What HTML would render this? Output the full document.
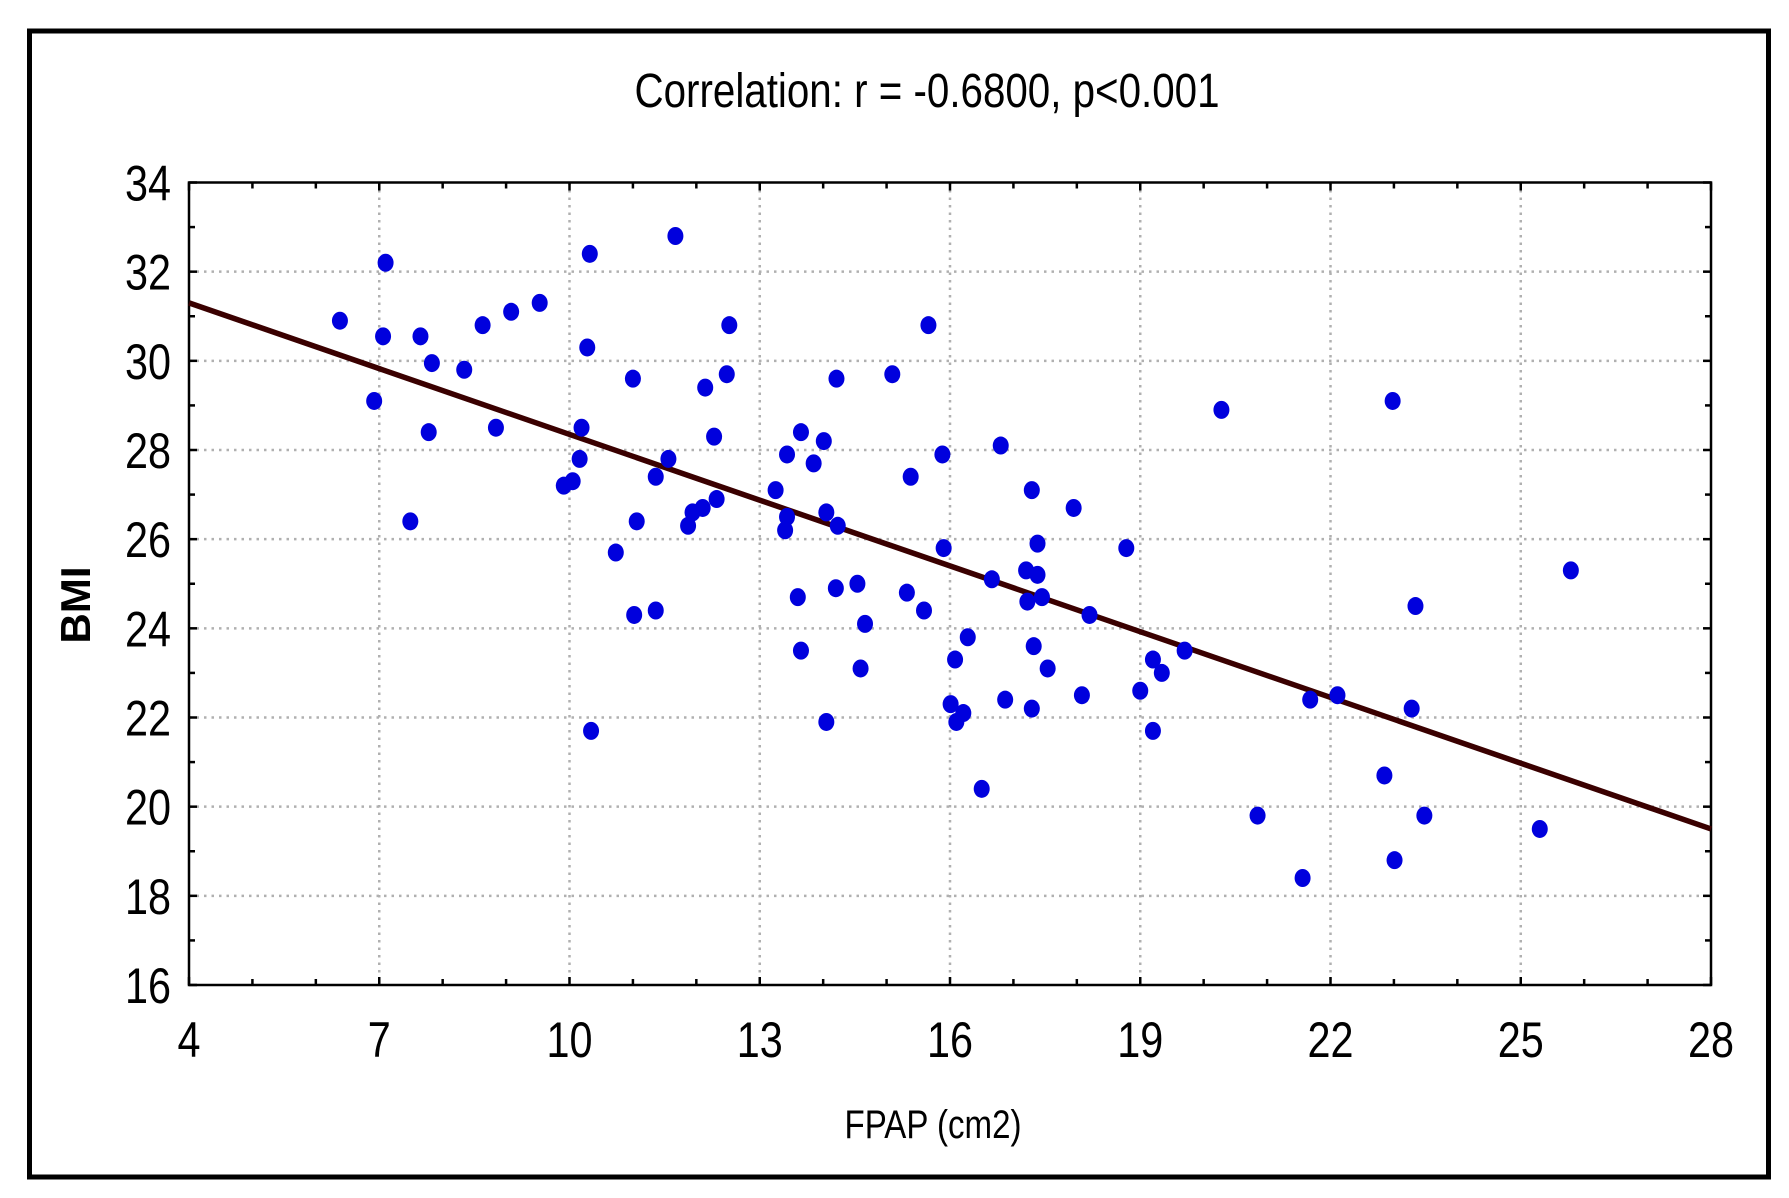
<!DOCTYPE html>
<html><head><meta charset="utf-8"><style>
html,body{margin:0;padding:0;background:#fff;}
svg{display:block;}
text{font-family:"Liberation Sans",sans-serif;}
</style></head><body>
<svg id="chart" width="1789" height="1198" viewBox="0 0 1789 1198">
<rect x="0" y="0" width="1789" height="1198" fill="#fff"/>
<rect x="29.5" y="31" width="1739" height="1146" fill="none" stroke="#000" stroke-width="5"/>
<text x="927" y="107" font-size="48" text-anchor="middle" textLength="585" lengthAdjust="spacingAndGlyphs">Correlation: r = -0.6800, p&lt;0.001</text>
<g id="grid"></g>
<g id="axes"></g>
<g id="marks"></g>
<text x="933" y="1138" font-size="40" text-anchor="middle" textLength="177" lengthAdjust="spacingAndGlyphs">FPAP (cm2)</text>
<text transform="translate(90,605) rotate(-90)" font-size="42" font-weight="bold" text-anchor="middle">BMI</text>
</svg>
<script>
const xTicks = [4,7,10,13,16,19,22,25,28];
const yTicks = [16,18,20,22,24,26,28,30,32,34];
const xs = [6.38,7.10,7.06,6.92,7.65,7.83,7.78,7.49,8.34,8.63,8.84,9.08,9.53,10.32,10.28,10.19,10.16,10.05,9.91,11.0,11.06,10.73,11.02,11.36,11.36,11.56,10.34,11.67,11.87,11.94,12.1,12.14,12.32,12.28,12.48,12.52,13.25,13.43,13.4,13.43,13.65,13.85,14.01,14.05,14.23,14.21,13.6,13.65,14.2,14.54,14.66,14.59,14.05,15.09,15.66,15.38,15.88,15.32,15.59,15.9,16.08,16.01,16.1,16.21,16.28,16.5,16.66,16.8,16.87,17.29,17.2,17.22,17.38,17.38,17.45,17.32,17.29,17.54,17.95,18.2,18.08,18.78,19.0,19.2,19.34,19.2,19.7,20.28,20.85,21.56,21.68,22.11,22.85,22.98,23.01,23.28,23.34,23.48,25.3,25.79];
const ys = [30.9,32.2,30.55,29.1,30.55,29.95,28.4,26.4,29.8,30.8,28.5,31.1,31.3,32.4,30.3,28.5,27.8,27.3,27.2,29.6,26.4,25.7,24.3,24.4,27.4,27.8,21.7,32.8,26.3,26.6,26.7,29.4,26.9,28.3,29.7,30.8,27.1,27.9,26.2,26.5,28.4,27.7,28.2,26.6,26.3,29.6,24.7,23.5,24.9,25.0,24.1,23.1,21.9,29.7,30.8,27.4,27.9,24.8,24.4,25.8,23.3,22.3,21.9,22.1,23.8,20.4,25.1,28.1,22.4,27.1,25.3,24.6,25.9,25.2,24.7,23.6,22.2,23.1,26.7,24.3,22.5,25.8,22.6,23.3,23.0,21.7,23.5,28.9,19.8,18.4,22.4,22.5,20.7,29.1,18.8,22.2,24.5,19.8,19.5,25.3];
const fitX = [4,28];
const fitY = [31.3,19.5];

const NS = 'http://www.w3.org/2000/svg';
const L=189, R=1711, T=182.5, B=985;
const xMin=4, xMax=28, yMin=16, yMax=34;
function sx(v){return L+(v-xMin)/(xMax-xMin)*(R-L);}
function sy(v){return B-(v-yMin)/(yMax-yMin)*(B-T);}
function mk(tag, attrs, parent){const e=document.createElementNS(NS,tag);for(const k in attrs)e.setAttribute(k,attrs[k]);parent.appendChild(e);return e;}
const grid=document.getElementById('grid'), axes=document.getElementById('axes'), marks=document.getElementById('marks');

xTicks.forEach(t=>{
  if(t>xMin && t<xMax){
    const g=mk('line',{x1:sx(t),x2:sx(t),y1:T,y2:B,stroke:'#b0b0b0','stroke-width':2.5,'stroke-dasharray':'2.5 5'},grid);
    
    
  }
  const s=String(t);
  const lb=mk('text',{x:sx(t),y:1057,'font-size':50,'text-anchor':'middle',textLength:23*s.length,lengthAdjust:'spacingAndGlyphs'},axes);
  lb.textContent=s;
  
  
});
yTicks.forEach(t=>{
  if(t>yMin && t<yMax){
    const g=mk('line',{x1:L,x2:R,y1:sy(t),y2:sy(t),stroke:'#b0b0b0','stroke-width':2.5,'stroke-dasharray':'2.5 5'},grid);
    
    
  }
  const s=String(t);
  const lb=mk('text',{x:171,y:sy(t)+18,'font-size':50,'text-anchor':'end',textLength:23*s.length,lengthAdjust:'spacingAndGlyphs'},axes);
  lb.textContent=s;
  
  
});
for(let v=xMin; v<=xMax; v++){
  const len=(xTicks.indexOf(v)>=0)?8:6;
  mk('line',{x1:sx(v),x2:sx(v),y1:B,y2:B-len,stroke:'#000','stroke-width':2.5},axes);
  mk('line',{x1:sx(v),x2:sx(v),y1:T,y2:T+len,stroke:'#000','stroke-width':2.5},axes);
}
for(let v=yMin; v<=yMax; v++){
  const len=(yTicks.indexOf(v)>=0)?8:6;
  mk('line',{x1:L,x2:L+len,y1:sy(v),y2:sy(v),stroke:'#000','stroke-width':2.5},axes);
  mk('line',{x1:R,x2:R-len,y1:sy(v),y2:sy(v),stroke:'#000','stroke-width':2.5},axes);
}
const frame=mk('rect',{x:L,y:T,width:R-L,height:B-T,fill:'none',stroke:'#000','stroke-width':2.5},axes);



const fit=mk('line',{x1:sx(fitX[0]),y1:sy(fitY[0]),x2:sx(fitX[1]),y2:sy(fitY[1]),stroke:'#3a0000','stroke-width':5.5},marks);



xs.forEach((x,i)=>{
  const p=mk('ellipse',{cx:sx(x),cy:sy(ys[i]),rx:8,ry:9,fill:'#0000dd'},marks);
  
  
});
</script>
</body></html>
